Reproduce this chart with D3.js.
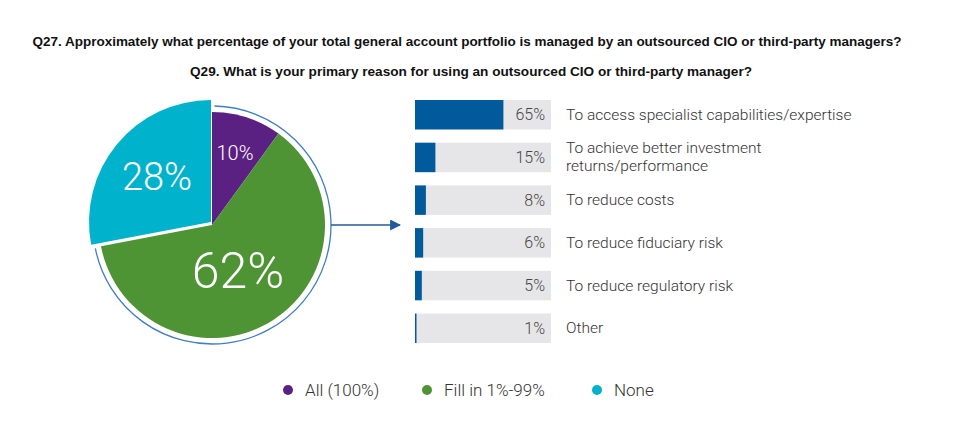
<!DOCTYPE html>
<html>
<head>
<meta charset="utf-8">
<script src="https://cdn.jsdelivr.net/npm/d3@7"></script>
<style>
  html, body { margin: 0; padding: 0; background: #fff; }
  svg { display: block; }
</style>
</head>
<body>
<svg id="chart" width="958" height="431"></svg>
<script>
// ---- Data ----
const titleLines = [
  "Q27. Approximately what percentage of your total general account portfolio is managed by an outsourced CIO or third-party managers?",
  "Q29. What is your primary reason for using an outsourced CIO or third-party manager?"
];
const pieCategories = ["All (100%)", "Fill in 1%-99%", "None"];
const pieValues = [10, 62, 28];
const pieColors = ["#5b2182", "#4f9434", "#00b2cb"];

const reasonLabels = [
  ["To access specialist capabilities/expertise"],
  ["To achieve better investment", "returns/performance"],
  ["To reduce costs"],
  ["To reduce fiduciary risk"],
  ["To reduce regulatory risk"],
  ["Other"]
];
const reasonValues = [65, 15, 8, 6, 5, 1];

// ---- Drawing ----
const svg = d3.select("#chart");

// Titles
const titleFont = "'Liberation Sans Narrow', 'Liberation Sans', Arial, sans-serif";
svg.append("text")
  .attr("x", 467).attr("y", 46)
  .attr("text-anchor", "middle")
  .attr("font-family", titleFont).attr("font-weight", "bold")
  .attr("font-size", 13).attr("fill", "#111")
  .attr("textLength", 869).attr("lengthAdjust", "spacingAndGlyphs")
  .text(titleLines[0]);
svg.append("text")
  .attr("x", 471).attr("y", 76)
  .attr("text-anchor", "middle")
  .attr("font-family", titleFont).attr("font-weight", "bold")
  .attr("font-size", 13).attr("fill", "#111")
  .attr("textLength", 562).attr("lengthAdjust", "spacingAndGlyphs")
  .text(titleLines[1]);

// Pie
const cx = 212, cy = 225, R = 113;
const pie = d3.pie().sort(null).value(d => d).startAngle(0).endAngle(2 * Math.PI);
const arcs = pie(pieValues);
const gPie = svg.append("g").attr("transform", `translate(${cx},${cy})`);

const radii = [R, R, 122];
const offsets = [[0, 0], [0, 0], [-1, -3]];
gPie.selectAll("path.slice")
  .data(arcs)
  .join("path")
  .attr("class", "slice")
  .attr("transform", (d, i) => `translate(${offsets[i][0]},${offsets[i][1]})`)
  .attr("d", (d, i) => d3.arc().innerRadius(0).outerRadius(radii[i])(d))
  .attr("fill", (d, i) => pieColors[i]);

// Outline arc around the non-"None" portion
const outlineStart = arcs[0].startAngle + 0.02;
const outlineEnd = arcs[1].endAngle - 0.01;
gPie.append("path")
  .attr("d", d3.arc().innerRadius(119).outerRadius(119).startAngle(outlineStart).endAngle(outlineEnd)())
  .attr("fill", "none")
  .attr("stroke", "#3f7fc0")
  .attr("stroke-width", 1.3);

// Pie labels
const pieLabelFont = "Roboto, 'Open Sans', sans-serif";
const pieLabelPos = [[23, -72], [26, 46], [-55, -48]];
const pieLabelSize = [20, 50, 38];
gPie.selectAll("text.plabel")
  .data(arcs)
  .join("text")
  .attr("class", "plabel")
  .attr("x", (d, i) => pieLabelPos[i][0])
  .attr("y", (d, i) => pieLabelPos[i][1])
  .attr("text-anchor", "middle")
  .attr("dominant-baseline", "central")
  .attr("font-family", pieLabelFont)
  .attr("font-weight", 300)
  .attr("font-size", (d, i) => pieLabelSize[i])
  .attr("fill", "#fff")
  .text(d => d.data + "%");

// Arrow
const arrowColor = "#1e5c9b";
svg.append("defs").append("marker")
  .attr("id", "arrowhead")
  .attr("viewBox", "0 0 10 10")
  .attr("refX", 9).attr("refY", 5)
  .attr("markerWidth", 11).attr("markerHeight", 11)
  .attr("markerUnits", "userSpaceOnUse")
  .attr("orient", "auto")
  .append("path").attr("d", "M0,0 L10,5 L0,10 Z").attr("fill", arrowColor);
svg.append("line")
  .attr("x1", cx + 119).attr("y1", cy)
  .attr("x2", 400).attr("y2", cy)
  .attr("stroke", arrowColor).attr("stroke-width", 1.3)
  .attr("marker-end", "url(#arrowhead)");

// Bars
const barX0 = 415, barX1 = 551;
const x = d3.scaleLinear().domain([0, 100]).range([barX0, barX1]);
const y = d3.scaleBand().domain(d3.range(reasonValues.length)).range([100, 343]).paddingInner(0.31).paddingOuter(0);
const bandH = y.bandwidth();

const gBars = svg.append("g");
gBars.selectAll("rect.bg")
  .data(reasonValues)
  .join("rect")
  .attr("class", "bg")
  .attr("x", x(0)).attr("y", (d, i) => y(i))
  .attr("width", x(100) - x(0)).attr("height", bandH)
  .attr("fill", "#e6e6e8");
gBars.selectAll("rect.val")
  .data(reasonValues)
  .join("rect")
  .attr("class", "val")
  .attr("x", x(0)).attr("y", (d, i) => y(i))
  .attr("width", d => Math.max(1.5, x(d) - x(0))).attr("height", bandH)
  .attr("fill", "#005a9c");

const labelFont = "Roboto, 'Open Sans', sans-serif";
gBars.selectAll("text.pct")
  .data(reasonValues)
  .join("text")
  .attr("class", "pct")
  .attr("x", 545).attr("y", (d, i) => y(i) + bandH / 2)
  .attr("text-anchor", "end").attr("dominant-baseline", "central")
  .attr("font-family", labelFont).attr("font-weight", 300)
  .attr("font-size", 16).attr("fill", "#444")
  .text(d => d + "%");

gBars.selectAll("text.cat")
  .data(reasonLabels)
  .join("text")
  .attr("class", "cat")
  .attr("font-family", labelFont).attr("font-weight", 300)
  .attr("font-size", 15.5).attr("fill", "#333")
  .each(function (lines, i) {
    const t = d3.select(this);
    const mid = y(i) + bandH / 2;
    const lh = 18;
    lines.forEach((ln, j) => {
      t.append("tspan")
        .attr("x", 566)
        .attr("y", mid + (j - (lines.length - 1) / 2) * lh)
        .attr("dominant-baseline", "central")
        .text(ln);
    });
  });

// Legend
const legendDotX = [288, 427, 597];
const gLeg = svg.append("g");
pieCategories.forEach((c, i) => {
  gLeg.append("circle")
    .attr("cx", legendDotX[i]).attr("cy", 390).attr("r", 5)
    .attr("fill", pieColors[i]);
  gLeg.append("text")
    .attr("x", legendDotX[i] + 17).attr("y", 390)
    .attr("dominant-baseline", "central")
    .attr("font-family", labelFont).attr("font-weight", 300)
    .attr("font-size", 17).attr("fill", "#333")
    .text(c);
});
</script>
</body>
</html>
